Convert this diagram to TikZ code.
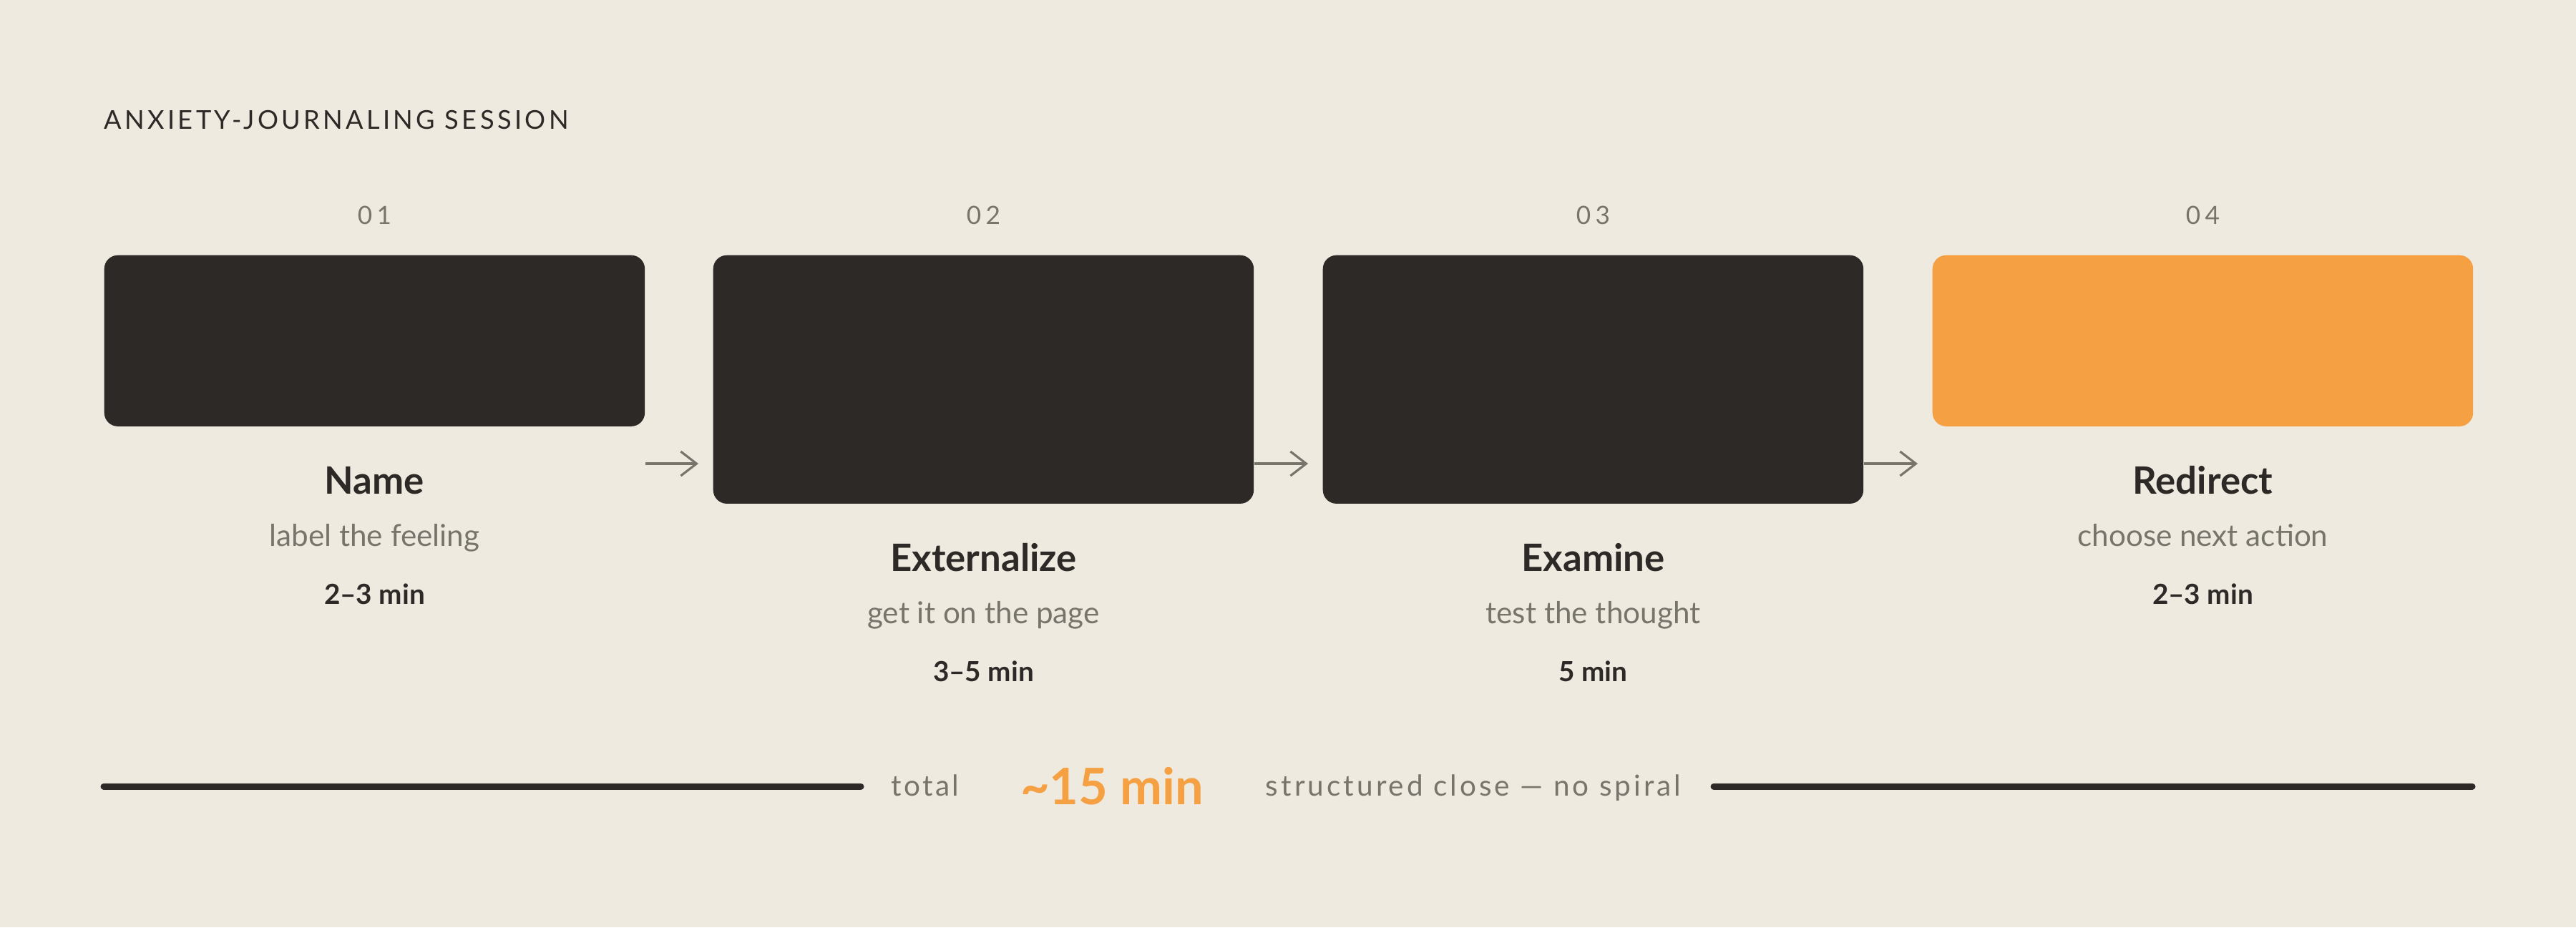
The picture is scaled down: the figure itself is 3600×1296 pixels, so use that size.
\documentclass[tikz,border=0pt]{standalone}
\usepackage{fontspec}
\setmainfont{Lato}
\usetikzlibrary{arrows.meta,positioning,calc}
\definecolor{paper}{HTML}{EEEAE0}
\definecolor{ink}{HTML}{2D2926}
\definecolor{amber}{HTML}{F5A042}
\definecolor{stone}{HTML}{77746C}
\begin{document}
\begin{tikzpicture}[x=0.01cm,y=-0.01cm,
    card/.style={fill=#1, rounded corners=0.19cm, minimum width=7.55cm, anchor=north west, inner sep=0},
    txt/.style={anchor=base, inner sep=0},
    num/.style={txt, text=stone, font=\fontsize{10}{12}\selectfont\addfontfeatures{LetterSpace=18}},
    stepname/.style={txt, text=ink, font=\fontsize{15}{18}\selectfont\bfseries},
    stepsub/.style={txt, text=stone, font=\fontsize{12}{14}\selectfont},
    steptime/.style={txt, text=ink, font=\fontsize{11}{13}\selectfont\bfseries},
    arr/.style={-{Straight Barb[length=0.22cm,width=0.34cm]}, stone, line width=0.9pt},
    rule/.style={ink, line width=2.56pt, line cap=round}]
    \fill[paper] (0,0) rectangle (3600,1296);
    \useasboundingbox (0,0) rectangle (3600,1296);
    % heading
    \node[txt, anchor=base west, text=ink, font=\fontsize{10.3}{12}\selectfont\addfontfeatures{LetterSpace=12}] (head) at (145,180) {ANXIETY-JOURNALING SESSION};
    % the four cards
    \node[card=ink, minimum height=2.39cm] (card1) at (145,356) {};
    \node[card=ink, minimum height=3.47cm] (card2) at (996,356) {};
    \node[card=ink, minimum height=3.47cm] (card3) at (1848,356) {};
    \node[card=amber, minimum height=2.39cm] (card4) at (2700,356) {};
    \node[num] (num1) at ([yshift=0.42cm]card1.north) {01};
    \node[num] (num2) at ([yshift=0.42cm]card2.north) {02};
    \node[num] (num3) at ([yshift=0.42cm]card3.north) {03};
    \node[num] (num4) at ([yshift=0.42cm]card4.north) {04};
    % labels under each card
    \node[stepname] (name1) at ([yshift=-0.94cm]card1.south) {Name};
    \node[stepsub] (sub1) at ([yshift=-1.67cm]card1.south) {label the feeling};
    \node[steptime] (time1) at ([yshift=-2.48cm]card1.south) {2–3 min};
    \node[stepname] (name2) at ([yshift=-0.94cm]card2.south) {Externalize};
    \node[stepsub] (sub2) at ([yshift=-1.67cm]card2.south) {get it on the page};
    \node[steptime] (time2) at ([yshift=-2.48cm]card2.south) {3–5 min};
    \node[stepname] (name3) at ([yshift=-0.94cm]card3.south) {Examine};
    \node[stepsub] (sub3) at ([yshift=-1.67cm]card3.south) {test the thought};
    \node[steptime] (time3) at ([yshift=-2.48cm]card3.south) {5 min};
    \node[stepname] (name4) at ([yshift=-0.94cm]card4.south) {Redirect};
    \node[stepsub] (sub4) at ([yshift=-1.67cm]card4.south) {choose next action};
    \node[steptime] (time4) at ([yshift=-2.48cm]card4.south) {2–3 min};
    % arrows
    \coordinate (flow) at (0,648);
    \draw[arr] (card1.east |- flow) -- ([xshift=-0.2cm]card2.west |- flow);
    \draw[arr] (card2.east |- flow) -- ([xshift=-0.2cm]card3.west |- flow);
    \draw[arr] (card3.east |- flow) -- ([xshift=-0.2cm]card4.west |- flow);
    % total row
    \node[txt, text=stone, font=\fontsize{11.5}{13}\selectfont\addfontfeatures{LetterSpace=8}] (total) at (1293,1112) {total};
    \node[txt, text=amber, font=\fontsize{20}{24}\selectfont\bfseries] (sum) at (1554,1124) {{\char"7E}15 min};
    \node[txt, text=stone, font=\fontsize{11.5}{13}\selectfont\addfontfeatures{LetterSpace=10}] (close) at (2059,1112) {structured close — no spiral};
    \coordinate (ruleA) at (145,1099);
    \coordinate (ruleB) at (1203,1099);
    \coordinate (ruleC) at (2395,1099);
    \coordinate (ruleD) at (3455,1099);
    \draw[rule] (ruleA) -- (ruleB);
    \draw[rule] (ruleC) -- (ruleD);
\end{tikzpicture}
\end{document}
